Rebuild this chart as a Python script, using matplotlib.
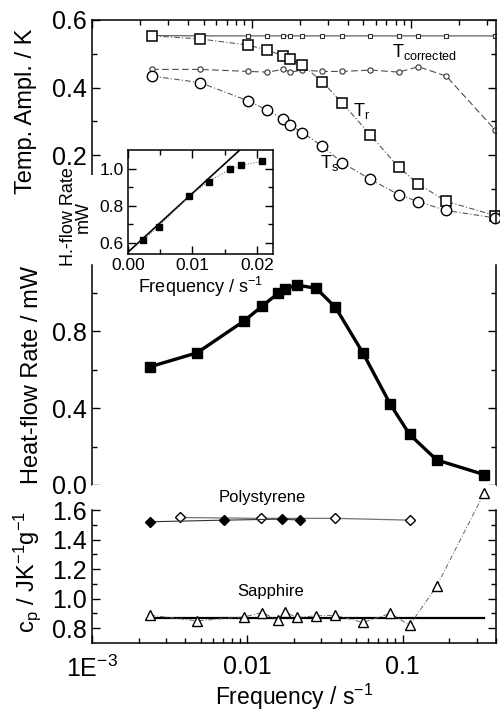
import numpy as np
import matplotlib
matplotlib.use('Agg')
import matplotlib.pyplot as plt
from matplotlib.ticker import MultipleLocator, FixedLocator, LogLocator, NullFormatter, FormatStrFormatter
from matplotlib.patches import Rectangle

# Frequencies of the modulation (s^-1):
freq = [0.00238, 0.00476, 0.00952, 0.0125, 0.0158, 0.0175, 0.0208, 0.0278, 0.037, 0.0555, 0.0835, 0.111, 0.166, 0.336]

# Temperature amplitudes (K):
T_r = [0.553, 0.544, 0.526, 0.511, 0.494, 0.484, 0.467, 0.417, 0.355, 0.260, 0.165, 0.115, 0.064, 0.022]
T_s = [0.434, 0.415, 0.361, 0.334, 0.307, 0.289, 0.267, 0.227, 0.178, 0.129, 0.084, 0.063, 0.037, 0.015]
T_corr = [0.554, 0.553, 0.553, 0.553, 0.553, 0.553, 0.553, 0.553, 0.553, 0.553, 0.553, 0.553, 0.553, 0.553]
Ts_corr = [0.454, 0.454, 0.448, 0.446, 0.454, 0.446, 0.452, 0.448, 0.448, 0.452, 0.446, 0.462, 0.434, 0.275]

# Heat-flow rate (mW):
heat_flow = [0.615, 0.687, 0.852, 0.930, 0.996, 1.017, 1.039, 1.022, 0.923, 0.687, 0.419, 0.263, 0.130, 0.054]

# Linear fit for the inset (mW, mW s):
fit_intercept = 0.55
fit_slope = 31.7
n_inset = 7

# Specific heat capacity (J/K/g):
ps_filled_f = [0.00238, 0.0071, 0.0167, 0.022]
ps_filled_cp = [1.521, 1.532, 1.539, 1.532]
ps_open_f = [0.0037, 0.0123, 0.037, 0.112]
ps_open_cp = [1.550, 1.544, 1.544, 1.532]
sapphire_cp = [0.888, 0.850, 0.877, 0.906, 0.854, 0.911, 0.873, 0.884, 0.888, 0.839, 0.900, 0.820, 1.085, 1.717]
sapphire_lit = 0.866

plt.rcParams['font.family'] = ['Liberation Sans', 'DejaVu Sans']
plt.rcParams['mathtext.default'] = 'regular'

fig = plt.figure(figsize=(5, 7.13), dpi=100)

def px_axes(x0, y0, x1, y1):
    return fig.add_axes([x0 / 500, 1 - y1 / 713, (x1 - x0) / 500, (y1 - y0) / 713])

def style(ax, size):
    ax.tick_params(which='both', direction='in', width=1, labelsize=size, pad=4)
    ax.tick_params(which='major', length=6)
    ax.tick_params(which='minor', length=3.5)
    for s in ax.spines.values():
        s.set_linewidth(1.1)

def log_ticks(ax):
    ax.set_xscale('log')
    ax.xaxis.set_major_locator(FixedLocator([1e-3, 1e-2, 1e-1]))
    ax.xaxis.set_minor_locator(LogLocator(base=10, subs=np.arange(2, 10), numticks=20))
    ax.xaxis.set_minor_formatter(NullFormatter())

dashdot = (0, (5, 2, 1, 2))

# Top panel: temperature amplitudes
ax1 = px_axes(92, 20, 496, 223)
style(ax1, 18)
log_ticks(ax1)
ax1.set_xlim(1e-3, 0.34)
ax1.set_ylim(0, 0.6)
ax1.spines['bottom'].set_visible(False)
ax1.tick_params(axis='x', which='both', bottom=False, top=True, labelbottom=False)
ax1.tick_params(axis='y', which='both', left=True, right=True)
ax1.yaxis.set_major_locator(FixedLocator([0.2, 0.4, 0.6]))
ax1.yaxis.set_minor_locator(FixedLocator([0.1, 0.3, 0.5]))
ax1.yaxis.set_major_formatter(FormatStrFormatter('%.1f'))
ax1.plot(freq, T_corr, color='0.3', lw=0.8, marker='s', ms=3.2, mfc='white', mec='0.2', mew=0.8)
ax1.plot(freq, Ts_corr, color='0.3', lw=0.8, ls=(0, (6, 3)), marker='o', ms=3.8, mfc='white', mec='0.2', mew=0.8)
ax1.plot(freq, T_r, color='0.35', lw=0.8, ls=dashdot, marker='s', ms=7, mfc='white', mec='black', mew=1.1, clip_on=False)
ax1.plot(freq, T_s, color='0.35', lw=0.8, ls=dashdot, marker='o', ms=7.5, mfc='white', mec='black', mew=1.0, clip_on=False)
ax1.text(0.824, 0.842, 'T$_{corrected}$', transform=ax1.transAxes, ha='center', va='center', fontsize=13)
ax1.text(0.668, 0.552, 'T$_r$', transform=ax1.transAxes, ha='center', va='center', fontsize=13)
ax1.text(0.589, 0.296, 'T$_s$', transform=ax1.transAxes, ha='center', va='center', fontsize=13)
ax1.set_ylabel('Temp. Ampl. / K', fontsize=17)
ax1.yaxis.set_label_coords(-0.136, 0.55)

# Middle panel: heat-flow rate
ax2 = px_axes(92, 265, 496, 485)
style(ax2, 18)
log_ticks(ax2)
ax2.set_xlim(1e-3, 0.4)
ax2.set_ylim(0, 1.143)
ax2.spines['top'].set_visible(False)
ax2.spines['bottom'].set_visible(False)
ax2.tick_params(axis='x', which='both', bottom=False, top=False, labelbottom=False)
ax2.tick_params(axis='y', which='both', left=True, right=True)
ax2.yaxis.set_major_locator(MultipleLocator(0.4))
ax2.yaxis.set_minor_locator(MultipleLocator(0.2))
ax2.yaxis.set_major_formatter(FormatStrFormatter('%.1f'))
ax2.plot(freq, heat_flow, color='black', lw=2.4, marker='s', ms=6.5, mfc='black', mec='black', clip_on=False)
ax2.set_ylabel('Heat-flow Rate / mW', fontsize=17)
ax2.yaxis.set_label_coords(-0.121, 0.5)

# Bottom panel: specific heat capacity
ax3 = px_axes(92, 485, 496, 643)
style(ax3, 18)
log_ticks(ax3)
ax3.set_xlim(1e-3, 0.4)
ax3.set_ylim(0.7, 1.77)
ax3.spines['top'].set_visible(False)
ax3.spines['left'].set_bounds(0.7, 1.6)
ax3.spines['right'].set_bounds(0.7, 1.6)
ax3.tick_params(axis='x', which='both', bottom=True, top=False, pad=9)
ax3.tick_params(axis='y', which='both', left=True, right=True)
ax3.yaxis.set_major_locator(FixedLocator([0.8, 1.0, 1.2, 1.4, 1.6]))
ax3.yaxis.set_minor_locator(FixedLocator([0.9, 1.1, 1.3, 1.5]))
ax3.yaxis.set_major_formatter(FormatStrFormatter('%.1f'))
ax3.set_xticklabels(['1E$^{-3}$', '0.01', '0.1'])
ax3.plot([freq[0], freq[-1]], [sapphire_lit, sapphire_lit], color='black', lw=1.6)
ax3.plot(ps_open_f, ps_open_cp, color='0.45', lw=0.9, marker='D', ms=5.5, mfc='white', mec='black', mew=1.0)
ax3.plot(ps_filled_f, ps_filled_cp, color='0.2', lw=0.8, marker='D', ms=5.5, mfc='black', mec='black')
ax3.plot(freq, sapphire_cp, color='0.4', lw=0.7, ls=dashdot, marker='^', ms=7, mfc='white', mec='black', mew=1.0, clip_on=False)
ax3.text(0.421, 0.924, 'Polystyrene', transform=ax3.transAxes, ha='center', va='center', fontsize=12)
ax3.text(0.441, 0.323, 'Sapphire', transform=ax3.transAxes, ha='center', va='center', fontsize=12)
ax3.set_ylabel('c$_p$ / JK$^{-1}$g$^{-1}$', fontsize=17)
ax3.yaxis.set_label_coords(-0.121, 0.45)
ax3.set_xlabel('Frequency / s$^{-1}$', fontsize=16.5, labelpad=0)

# White area behind the inset labels:
fig.add_artist(Rectangle((42 / 500, 1 - 263 / 713), (128 - 42) / 500, (263 - 175) / 713,
                         transform=fig.transFigure, facecolor='white', edgecolor='none', zorder=2))

# Inset: low-frequency heat-flow rate
ax_in = px_axes(128, 150, 273, 254)
ax_in.set_zorder(3)
style(ax_in, 12.5)
ax_in.tick_params(which='both', top=True, right=True, pad=3)
ax_in.set_xlim(0, 0.0225)
ax_in.set_ylim(0.54, 1.10)
ax_in.xaxis.set_major_locator(FixedLocator([0.0, 0.01, 0.02]))
ax_in.xaxis.set_minor_locator(FixedLocator([0.005, 0.015]))
ax_in.xaxis.set_major_formatter(FormatStrFormatter('%.2f'))
ax_in.yaxis.set_major_locator(FixedLocator([0.6, 0.8, 1.0]))
ax_in.yaxis.set_minor_locator(FixedLocator([0.7, 0.9]))
ax_in.yaxis.set_major_formatter(FormatStrFormatter('%.1f'))
fit_x = np.array([0.0, 0.0225])
ax_in.plot(fit_x, fit_intercept + fit_slope * fit_x, color='black', lw=1.2)
ax_in.plot(freq[:n_inset], heat_flow[:n_inset], color='0.4', lw=0.7, ls=':', marker='s', ms=3.8, mfc='black', mec='black')
ax_in.set_xlabel('Frequency / s$^{-1}$', fontsize=13, labelpad=1)
ax_in.set_ylabel('H.-flow Rate\nmW', fontsize=13, linespacing=0.85)
ax_in.yaxis.set_label_coords(-0.25, 0.36)

plt.savefig('out.png', dpi=100)
